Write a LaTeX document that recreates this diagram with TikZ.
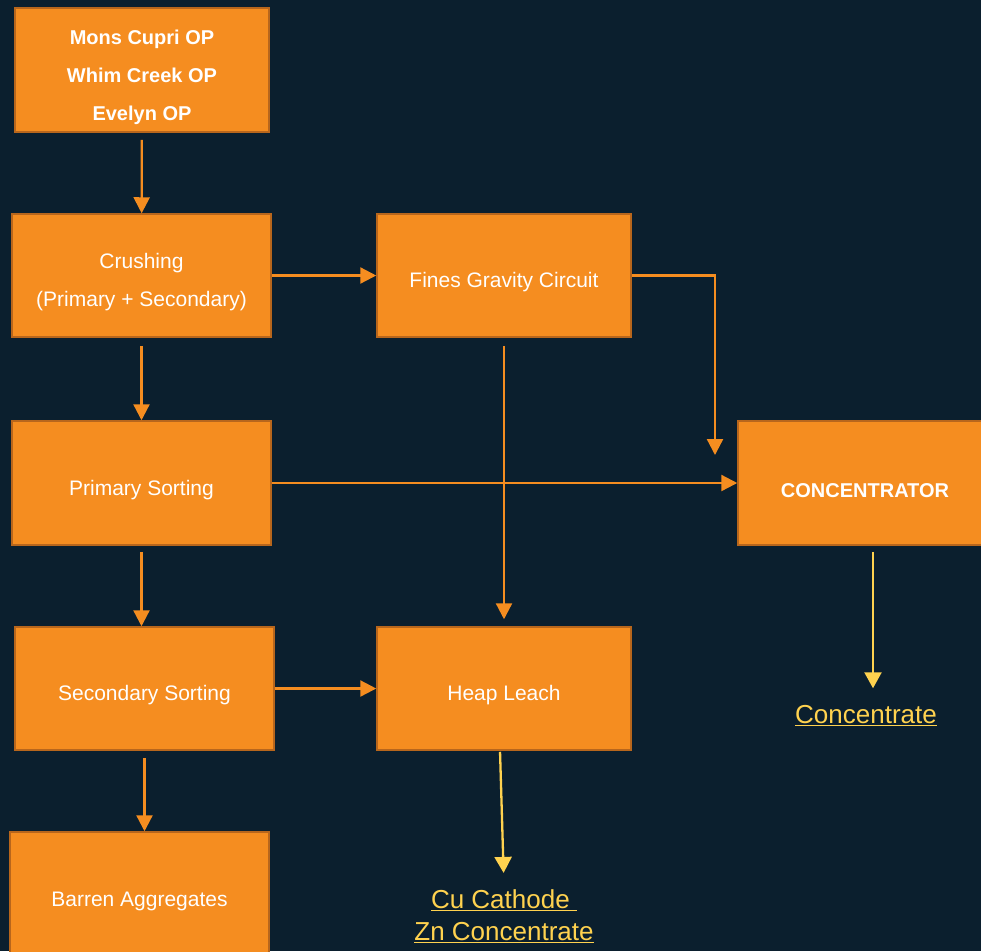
\documentclass[tikz,border=0pt]{standalone}
\usepackage{fontspec}
\setmainfont{Liberation Sans}
\usetikzlibrary{arrows.meta}
\definecolor{bgnavy}{HTML}{0B1F2E}
\definecolor{oreorange}{HTML}{F58D20}
\definecolor{oreedge}{HTML}{B8661C}
\definecolor{prodyellow}{HTML}{FFD24F}
\begin{document}
\begin{tikzpicture}[x=1pt,y=-1pt,
  stage/.style={draw=oreedge,line width=1.5pt,fill=oreorange,text=white,
    minimum width=259pt,minimum height=123pt,inner sep=0pt,align=center,
    text height=29pt,font=\fontsize{21}{38}\selectfont},
  boldstage/.style={stage,font=\bfseries\fontsize{20}{38}\selectfont},
  flow/.style={draw=oreorange,line width=2.3pt,-{Triangle[length=16pt,width=16pt]}},
  prodflow/.style={draw=prodyellow,line width=2.3pt,-{Triangle[length=16pt,width=17pt]}},
  product/.style={text=prodyellow,align=center,font=\fontsize{26}{32}\selectfont}]
\fill[bgnavy] (0,0) rectangle (981,951);
\useasboundingbox (0,0) rectangle (981,951);
\node[boldstage,minimum width=254pt,minimum height=124pt,text height=105pt] (mines) at (142,70) {Mons Cupri OP\\Whim Creek OP\\Evelyn OP};
\node[stage,text height=67pt] (crush) at (141.5,275.5) {Crushing\\(Primary + Secondary)};
\node[stage,minimum width=254pt] (fines) at (504,275.5) {Fines Gravity Circuit};
\node[stage,minimum height=124pt] (primary) at (141.5,483) {Primary Sorting};
\node[boldstage,minimum width=254pt,minimum height=124pt] (conc) at (865,483) {CONCENTRATOR};
\node[stage] (secondary) at (144.5,688.5) {Secondary Sorting};
\node[stage,minimum width=254pt] (heap) at (504,688.5) {Heap Leach};
\node[stage,minimum height=124pt] (barren) at (139.5,894) {Barren Aggregates};
\node[product] (concout) at (866,716) {\underline{Concentrate}};
\node[product] (heapout) at (504,916) {\underline{Cu Cathode\ }\\\underline{Zn Concentrate}};
\coordinate (concin) at (715,455);
\draw[flow,shorten <=7pt] (mines) -- (crush);
\draw[flow,shorten <=8pt] (crush) -- (primary);
\draw[flow,shorten <=6pt] (primary.south) -- (primary.south |- secondary.north);
\draw[flow,shorten <=7pt] (secondary.south) -- (secondary.south |- barren.north);
\draw[flow] (crush) -- (fines);
\draw[flow] (primary) -- (conc);
\draw[flow] (secondary) -- (heap);
\draw[flow,shorten <=8pt,shorten >=7pt] (fines) -- (heap);
\draw[flow] (fines.east) -| (concin);
\draw[prodflow,shorten <=6pt,shorten >=14pt] ([xshift=8pt]conc.south) -- ([xshift=8pt]conc.south |- concout.north);
\draw[prodflow,shorten <=1pt,shorten >=13pt] ([xshift=-4pt]heap.south) -- (heapout.north);
\end{tikzpicture}
\end{document}
